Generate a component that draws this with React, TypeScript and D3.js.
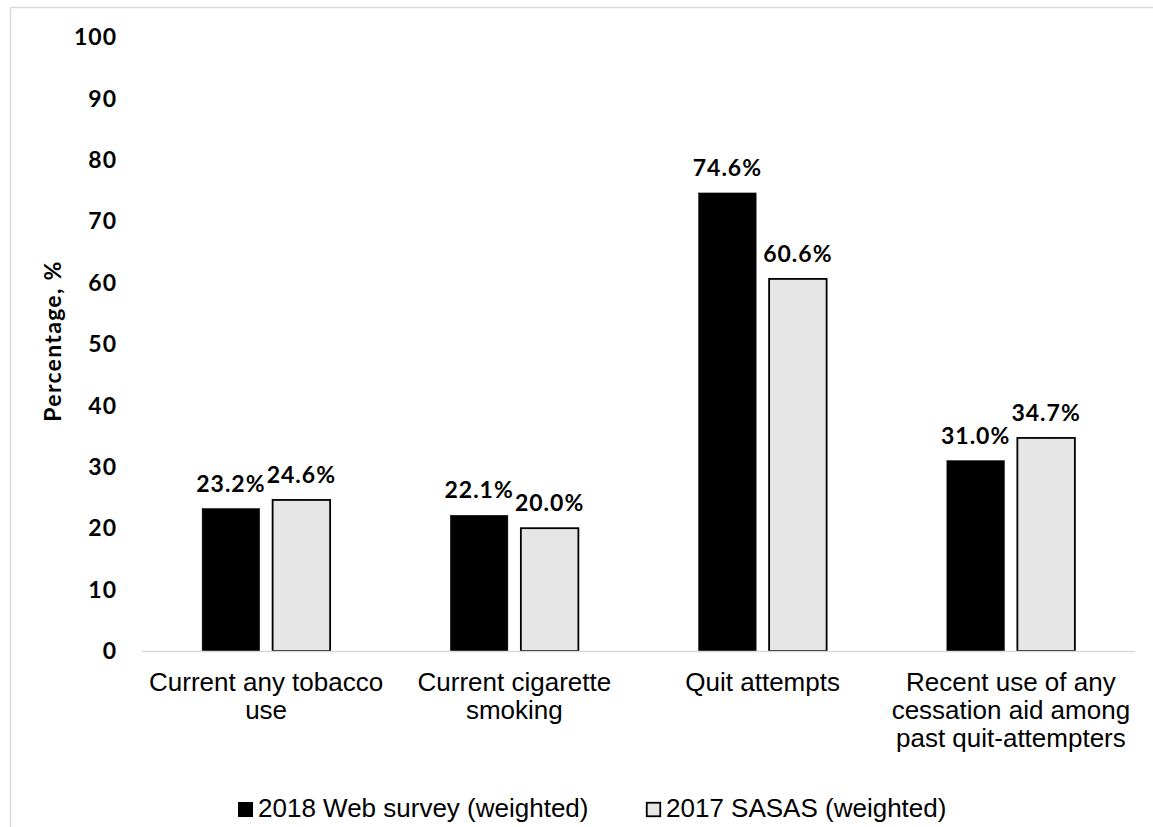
import { useEffect, useRef } from "react";
import * as d3 from "d3";

const WIDTH = 1153;
const HEIGHT = 827;

// Categories (multi-line labels) and series values
const categories = [
  ["Current any tobacco", "use"],
  ["Current cigarette", "smoking"],
  ["Quit attempts"],
  ["Recent use of any", "cessation aid among", "past quit-attempters"],
];
const seriesNames = ["2018 Web survey (weighted)", "2017 SASAS (weighted)"];
const web2018 = [23.2, 22.1, 74.6, 31.0];
const sasas2017 = [24.6, 20.0, 60.6, 34.7];
const yTicks = [0, 10, 20, 30, 40, 50, 60, 70, 80, 90, 100];

const fills = ["#000000", "#e6e6e6"];
const boldFont = "Lato, 'DejaVu Sans', sans-serif";
const plainFont = "'Liberation Sans', Arial, sans-serif";

function drawChart(el: SVGSVGElement) {
  const svg = d3.select(el);
  svg.selectAll("*").remove();

  const plot = { left: 142, right: 1135, top: 37, bottom: 651 };

  // Chart area border (only top and left visible in the frame)
  svg
    .append("rect")
    .attr("x", 10.5)
    .attr("y", 7.5)
    .attr("width", 1160)
    .attr("height", 840)
    .attr("fill", "none")
    .attr("stroke", "#d9d9d9")
    .attr("stroke-width", 1.5);

  const keys = categories.map((c) => c.join(" "));

  const x0 = d3.scaleBand().domain(keys).range([plot.left, plot.right]);
  const x1 = d3
    .scaleBand()
    .domain(["0", "1"])
    .range([-64, 64])
    .paddingInner(0.184);
  const y = d3.scaleLinear().domain([0, 100]).range([plot.bottom, plot.top]);

  // Y tick labels
  svg
    .append("g")
    .selectAll("text")
    .data(yTicks)
    .join("text")
    .attr("x", 117)
    .attr("y", (d) => y(d))
    .attr("dy", "0.36em")
    .attr("text-anchor", "end")
    .attr("font-family", boldFont)
    .attr("font-weight", 700)
    .attr("font-size", 23)
    .attr("letter-spacing", 1)
    .attr("fill", "#000")
    .text((d) => d);

  // Axis title
  svg
    .append("text")
    .attr("transform", "translate(61," + 341 + ") rotate(-90)")
    .attr("text-anchor", "middle")
    .attr("font-family", boldFont)
    .attr("font-weight", 700)
    .attr("font-size", 23)
    .attr("letter-spacing", 1.3)
    .attr("fill", "#000")
    .text("Percentage, %");

  const rows = keys.map((k, i) => ({
    key: k,
    values: [web2018[i], sasas2017[i]],
  }));

  // Bars
  const groups = svg
    .append("g")
    .selectAll("g")
    .data(rows)
    .join("g")
    .attr(
      "transform",
      (d) => "translate(" + (x0(d.key)! + x0.bandwidth() / 2) + ",0)"
    );

  groups
    .selectAll("rect")
    .data((d) => d.values.map((v, s) => ({ v, s })))
    .join("rect")
    .attr("x", (d) => x1(String(d.s))!)
    .attr("y", (d) => y(d.v))
    .attr("width", x1.bandwidth())
    .attr("height", (d) => y(0) - y(d.v))
    .attr("fill", (d) => fills[d.s])
    .attr("stroke", "#000")
    .attr("stroke-width", (d) => (d.s === 1 ? 1.8 : 0.5));

  // Value labels
  groups
    .selectAll("text")
    .data((d) => d.values.map((v, s) => ({ v, s })))
    .join("text")
    .attr("x", (d) => x1(String(d.s))! + x1.bandwidth() / 2)
    .attr("y", (d) => y(d.v) - 17)
    .attr("text-anchor", "middle")
    .attr("font-family", boldFont)
    .attr("font-weight", 700)
    .attr("font-size", 23)
    .attr("letter-spacing", 1)
    .attr("fill", "#000")
    .text((d) => d.v.toFixed(1) + "%");

  // X axis line
  svg
    .append("line")
    .attr("x1", plot.left)
    .attr("x2", plot.right)
    .attr("y1", y(0) + 0.5)
    .attr("y2", y(0) + 0.5)
    .attr("stroke", "#d9d9d9")
    .attr("stroke-width", 1.5);

  // Category labels
  svg
    .append("g")
    .selectAll("text")
    .data(categories)
    .join("text")
    .attr("text-anchor", "middle")
    .attr("font-family", plainFont)
    .attr("font-size", 26)
    .attr("fill", "#000")
    .each(function (lines, i) {
      const cx = x0(keys[i])! + x0.bandwidth() / 2;
      d3.select(this)
        .selectAll("tspan")
        .data(lines)
        .join("tspan")
        .attr("x", cx)
        .attr("y", (_, j) => 691 + j * 28)
        .text((t) => t);
    });

  // Legend
  const legendX = [238, 646];
  const legend = svg
    .append("g")
    .selectAll("g")
    .data(seriesNames)
    .join("g")
    .attr("transform", (_, i) => "translate(" + legendX[i] + ",802)");

  legend
    .append("rect")
    .attr("x", (_, i) => (i === 1 ? 0.75 : 0))
    .attr("y", (_, i) => (i === 1 ? 0.75 : 0))
    .attr("width", (_, i) => (i === 1 ? 13.5 : 15))
    .attr("height", (_, i) => (i === 1 ? 13.5 : 15))
    .attr("fill", (_, i) => fills[i])
    .attr("stroke", "#000")
    .attr("stroke-width", (_, i) => (i === 1 ? 1.8 : 0));

  legend
    .append("text")
    .attr("x", 20)
    .attr("y", 15)
    .attr("font-family", plainFont)
    .attr("font-size", 26)
    .attr("fill", "#000")
    .text((d) => d);
}

export default function App() {
  const ref = useRef<SVGSVGElement>(null);

  useEffect(() => {
    if (ref.current) drawChart(ref.current);
  }, []);

  return (
    <svg
      ref={ref}
      width={WIDTH}
      height={HEIGHT}
      style={{ position: "absolute", left: 0, top: 0, background: "#fff" }}
    />
  );
}
